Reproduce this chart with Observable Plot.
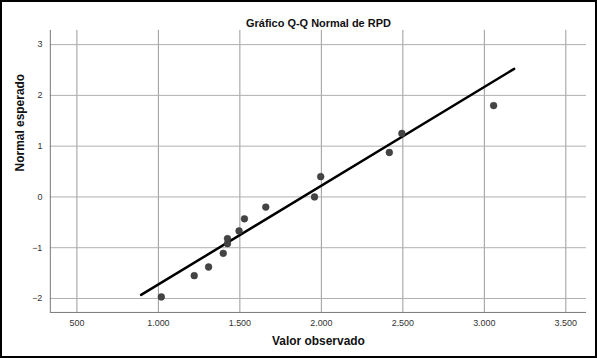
<!DOCTYPE html>
<html>
<head>
<meta charset="utf-8">
<script src="https://cdn.jsdelivr.net/npm/d3@7"></script>
<script src="https://cdn.jsdelivr.net/npm/@observablehq/plot@0.6"></script>
<style>
  html, body { margin: 0; padding: 0; background: #fff; }
  #wrap { position: absolute; left: 0; top: 0; width: 593px; height: 354px; border: 2px solid #000; overflow: hidden; }
  #chart { position: absolute; left: -2px; top: -2px; }
</style>
</head>
<body>
<div id="wrap"><div id="chart"></div></div>
<script>
// Observed values (RPD) and expected normal values
const observed = [1018, 1220, 1308, 1398, 1424, 1424, 1495, 1528, 1659, 1958, 1996, 2417, 2494, 3057];
const expected = [-1.97, -1.55, -1.38, -1.11, -0.92, -0.82, -0.67, -0.43, -0.20, 0.00, 0.40, 0.875, 1.25, 1.80];
// Reference line endpoints (x) with mean and sd of the fitted normal
const lineX = [894, 3183];
const lineMean = 1886;
const lineSd = 514;
const xTicks = [500, 1000, 1500, 2000, 2500, 3000, 3500];
const yTicks = [-2, -1, 0, 1, 2, 3];
const title = "Gráfico Q-Q Normal de RPD";
const xTitle = "Valor observado";
const yTitle = "Normal esperado";

const points = observed.map((x, i) => ({x, y: expected[i]}));
const line = lineX.map(x => ({x, y: (x - lineMean) / lineSd}));
const fmt = d => d3.format(",")(d).replace(/,/g, ".");

const xDomain = [337, 3627];
const yDomain = [-2.275, 3.28];

const chart = Plot.plot({
  width: 597,
  height: 358,
  marginLeft: 50,
  marginRight: 9,
  marginTop: 30,
  marginBottom: 45,
  style: {fontFamily: "'Liberation Sans', Arial, sans-serif", fontSize: "9px", color: "#222", background: "#fff"},
  x: {domain: xDomain, ticks: xTicks, tickFormat: fmt, label: null},
  y: {domain: yDomain, ticks: yTicks, tickFormat: "d", label: null},
  marks: [
    Plot.gridX(xTicks, {stroke: "#9a9a9a", strokeOpacity: 1, strokeWidth: 1}),
    Plot.gridY(yTicks, {stroke: "#b0b0b0", strokeOpacity: 1, strokeWidth: 1}),
    Plot.axisX(xTicks, {tickFormat: fmt, tickSize: 0, tickPadding: 7, fontSize: 9, fill: "#333"}),
    Plot.axisY(yTicks, {tickFormat: "d", tickSize: 0, tickPadding: 8, fontSize: 9, fill: "#333"}),
    Plot.ruleX([xDomain[0]], {stroke: "#777", strokeWidth: 1}),
    Plot.ruleY([yDomain[0]], {stroke: "#777", strokeWidth: 1}),
    Plot.line(line, {x: "x", y: "y", stroke: "#000", strokeWidth: 2.5}),
    Plot.dot(points, {x: "x", y: "y", r: 3.4, fill: "#444", stroke: "#333", strokeWidth: 0.5}),
    Plot.text([title], {frameAnchor: "top", dy: -11, fontSize: 11, fontWeight: "bold", fill: "#111"}),
    Plot.text([xTitle], {frameAnchor: "bottom", dy: 33, fontSize: 12, fontWeight: "bold", fill: "#111"}),
    Plot.text([yTitle], {frameAnchor: "left", dx: -30, rotate: -90, fontSize: 12, fontWeight: "bold", fill: "#111"})
  ]
});
document.getElementById("chart").appendChild(chart);
</script>
</body>
</html>
